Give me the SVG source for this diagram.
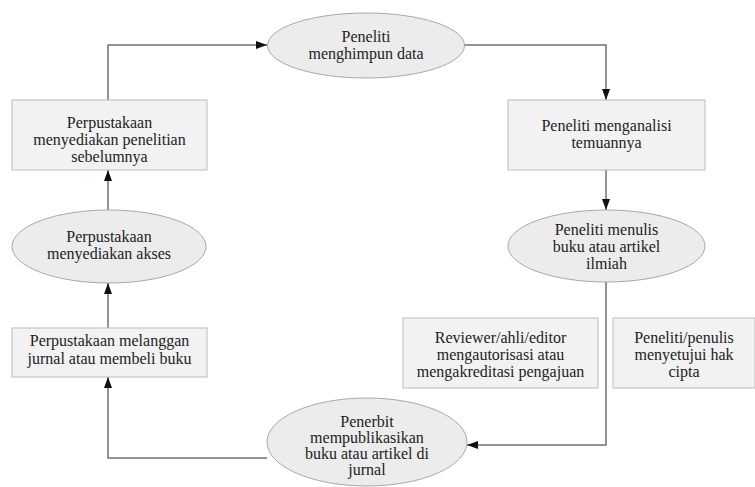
<svg xmlns="http://www.w3.org/2000/svg" width="755" height="487" viewBox="0 0 755 487">
<style>
.box{fill:#f2f2f2;stroke:#bcbcbc;stroke-width:1}
.ell{fill:#ececec;stroke:#a8a8a8;stroke-width:1}
.t{font-family:"Liberation Serif","Times New Roman",serif;font-size:16px;fill:#222;text-anchor:middle}
.edge{fill:none;stroke:#707070;stroke-width:1.5}
</style>
<defs>
<marker id="arr" markerUnits="userSpaceOnUse" markerWidth="11" markerHeight="8" refX="11" refY="4" orient="auto">
<path d="M0,0 L11,4 L0,8 z" fill="#111"/>
</marker>
</defs>
<rect width="755" height="487" fill="#ffffff"/>
<g id="connectors">
<path class="edge" d="M108,100 V45 H267" marker-end="url(#arr)"/>
<path class="edge" d="M464,45 H606 V100" marker-end="url(#arr)"/>
<path class="edge" d="M606,170 V210" marker-end="url(#arr)"/>
<path class="edge" d="M606,282 V445 H467" marker-end="url(#arr)"/>
<path class="edge" d="M267,458 H108 V377" marker-end="url(#arr)"/>
<path class="edge" d="M108,328 V283" marker-end="url(#arr)"/>
<path class="edge" d="M108,210 V170" marker-end="url(#arr)"/>
</g>
<g id="n_menghimpun">
<ellipse class="ell" cx="366" cy="45.5" rx="98.5" ry="32.5"/>
<text class="t" x="366" y="42">Peneliti</text>
<text class="t" x="366" y="59">menghimpun data</text>
</g>
<g id="n_menganalisi">
<rect class="box" x="508" y="100" width="197" height="70"/>
<text class="t" x="606.5" y="131">Peneliti menganalisi</text>
<text class="t" x="606.5" y="148">temuannya</text>
</g>
<g id="n_menulis">
<ellipse class="ell" cx="606.5" cy="246" rx="98.5" ry="36"/>
<text class="t" x="606.5" y="235">Peneliti menulis</text>
<text class="t" x="606.5" y="252">buku atau artikel</text>
<text class="t" x="606.5" y="269">ilmiah</text>
</g>
<g id="n_reviewer">
<rect class="box" x="403" y="318" width="195" height="70"/>
<text class="t" x="500.5" y="343">Reviewer/ahli/editor</text>
<text class="t" x="500.5" y="360">mengautorisasi atau</text>
<text class="t" x="500.5" y="377">mengakreditasi pengajuan</text>
</g>
<g id="n_hakcipta">
<rect class="box" x="613" y="318" width="142" height="70"/>
<text class="t" x="684" y="343">Peneliti/penulis</text>
<text class="t" x="684" y="360">menyetujui hak</text>
<text class="t" x="684" y="377">cipta</text>
</g>
<g id="n_penerbit">
<ellipse class="ell" cx="367" cy="442" rx="100" ry="44"/>
<text class="t" x="367" y="427">Penerbit</text>
<text class="t" x="367" y="443">mempublikasikan</text>
<text class="t" x="367" y="459">buku atau artikel di</text>
<text class="t" x="367" y="475">jurnal</text>
</g>
<g id="n_melanggan">
<rect class="box" x="12" y="328" width="195" height="49"/>
<text class="t" x="109.5" y="346">Perpustakaan melanggan</text>
<text class="t" x="109.5" y="364">jurnal atau membeli buku</text>
</g>
<g id="n_akses">
<ellipse class="ell" cx="109" cy="246.5" rx="97" ry="36.5"/>
<text class="t" x="109" y="242">Perpustakaan</text>
<text class="t" x="109" y="259">menyediakan akses</text>
</g>
<g id="n_penelitian">
<rect class="box" x="12" y="100" width="195" height="70"/>
<text class="t" x="109.5" y="128">Perpustakaan</text>
<text class="t" x="109.5" y="145">menyediakan penelitian</text>
<text class="t" x="109.5" y="162">sebelumnya</text>
</g>
</svg>
